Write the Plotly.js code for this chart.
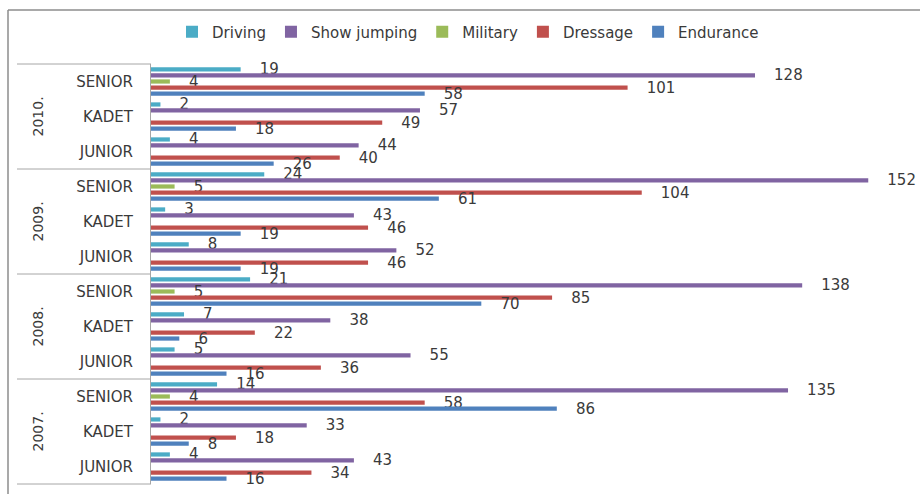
<!DOCTYPE html>
<html>
<head>
<meta charset="utf-8">
<script src="https://cdn.plot.ly/plotly-3.0.1.min.js"></script>
<style>html,body{margin:0;padding:0;background:#fff;}#chart{width:920px;height:494px;}</style>
</head>
<body>
<div id="chart"></div>
<script>
var years = ["2010.", "2009.", "2008.", "2007."];
var levels = ["SENIOR", "KADET", "JUNIOR"];
var seriesNames = ["Driving", "Show jumping", "Military", "Dressage", "Endurance"];
var seriesColors = ["#4BACC6", "#8064A2", "#9BBB59", "#C0504D", "#4F81BD"];

// values in order: 2010 S,K,J, 2009 S,K,J, 2008 S,K,J, 2007 S,K,J
var driving     = [19, 2, 4, 24, 3, 8, 21, 7, 5, 14, 2, 4];
var showJumping = [128, 57, 44, 152, 43, 52, 138, 38, 55, 135, 33, 43];
var military    = [4, null, null, 5, null, null, 5, null, null, 4, null, null];
var dressage    = [101, 49, 40, 104, 46, 46, 85, 22, 36, 58, 18, 34];
var endurance   = [58, 18, 26, 61, 19, 19, 70, 6, 16, 86, 8, 16];

var seriesValues = [driving, showJumping, military, dressage, endurance];

var cats = [];
years.forEach(function (yr) { levels.forEach(function (lv) { cats.push(yr + "|" + lv); }); });
var tickLabels = cats.map(function (c) { return c.split("|")[1]; });

var FONT = "'DejaVu Sans', Verdana, sans-serif";
var TXT = "#3a3a3a";
var L = 151, R = 14, T = 64, B = 10, W = 920, H = 494;
var pw = W - L - R, ph = H - T - B;

var traces = seriesValues.map(function (vals, i) {
  return {
    type: "bar",
    orientation: "h",
    name: seriesNames[i],
    y: cats,
    x: vals,
    marker: { color: seriesColors[i] },
    text: vals.map(function (v) { return v === null ? "" : "\u00a0\u00a0\u00a0\u00a0" + v; }),
    textposition: "outside",
    constraintext: "none",
    cliponaxis: false,
    textfont: { family: FONT, size: 15, color: TXT },
    hoverinfo: "x+name"
  };
});

var shapes = [];
var nCat = cats.length;
[0, 3, 6, 9, 12].forEach(function (k) {
  var yp = 1 - k / nCat;
  shapes.push({ type: "line", xref: "paper", yref: "paper",
    x0: (17 - L) / pw, x1: 0, y0: yp, y1: yp,
    line: { color: "#A6A6A6", width: 1 } });
});
// outer chart border (top and left)
shapes.push({ type: "line", xref: "paper", yref: "paper",
  x0: (8 - L) / pw, x1: (W - L) / pw, y0: 1 + (T - 10) / ph, y1: 1 + (T - 10) / ph,
  line: { color: "#8C8C8C", width: 1.5 } });
shapes.push({ type: "line", xref: "paper", yref: "paper",
  x0: (8 - L) / pw, x1: (8 - L) / pw, y0: 1 + (T - 10) / ph, y1: -B / ph,
  line: { color: "#8C8C8C", width: 1.5 } });

var annotations = years.map(function (yr, i) {
  return { xref: "paper", x: 0, xshift: -114, xanchor: "center", yanchor: "middle",
    yref: "y", y: yr + "|KADET", text: yr, textangle: -90, showarrow: false,
    font: { family: FONT, size: 14, color: TXT } };
});

var layout = {
  width: W, height: H,
  margin: { l: L, r: R, t: T, b: B },
  paper_bgcolor: "#ffffff", plot_bgcolor: "#ffffff",
  barmode: "group",
  bargap: 0.14,
  bargroupgap: 0.3,
  showlegend: true,
  legend: { orientation: "h", x: (468 - L) / pw, xanchor: "center", y: 1 + 32 / ph, yanchor: "middle",
    font: { family: FONT, size: 15, color: TXT },
    itemwidth: 30, traceorder: "normal" },
  xaxis: { range: [0, 160], showgrid: false, zeroline: false, showticklabels: false, showline: false, fixedrange: true },
  yaxis: { type: "category", autorange: "reversed", tickmode: "array", tickvals: cats, ticktext: tickLabels,
    showline: true, linecolor: "#A6A6A6", linewidth: 1, showgrid: false, ticks: "", ticklabelstandoff: 14,
    tickfont: { family: FONT, size: 15, color: TXT } },
  shapes: shapes,
  annotations: annotations,
  font: { family: FONT }
};

Plotly.newPlot("chart", traces, layout, { displayModeBar: false, staticPlot: true });
</script>
</body>
</html>
